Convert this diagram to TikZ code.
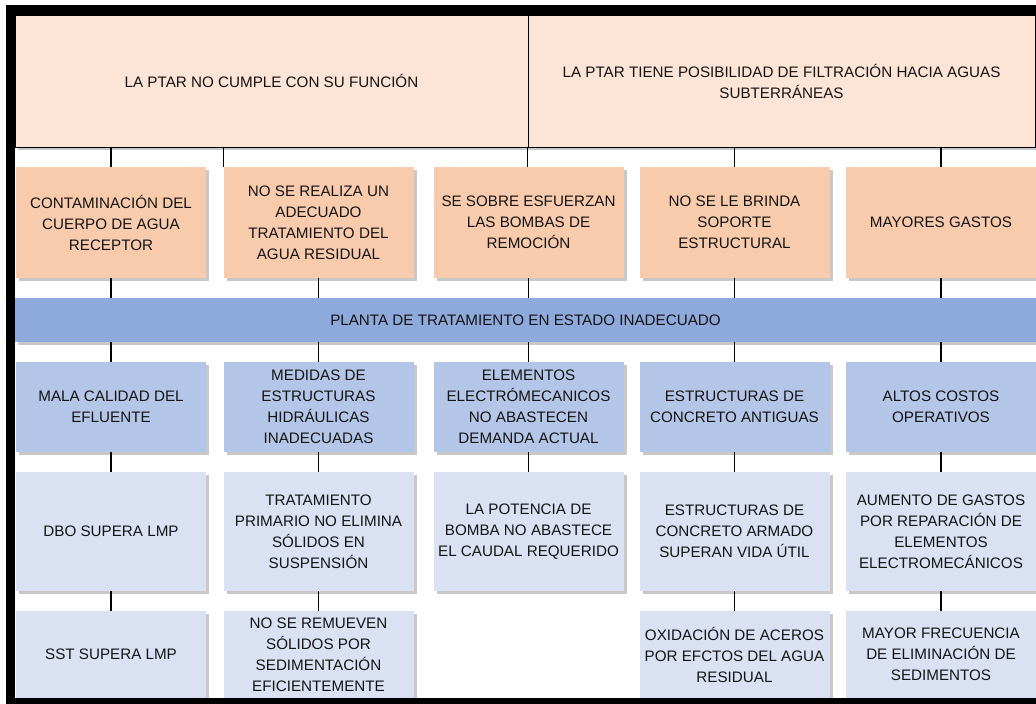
\documentclass[tikz,border=0pt]{standalone}
\usepackage{fontspec}
\setmainfont{Liberation Sans}
\usetikzlibrary{shadows}
\definecolor{toppeach}{HTML}{FCE4D6}
\definecolor{peach}{HTML}{F8CBAD}
\definecolor{barblue}{HTML}{8EA9DB}
\definecolor{midblue}{HTML}{B4C6E7}
\definecolor{paleblue}{HTML}{D9E1F2}
\definecolor{txt}{HTML}{141414}
\begin{document}
\begin{tikzpicture}[x=1pt,y=-1pt,
  every node/.style={font=\fontsize{15.2}{21}\selectfont, text=txt, align=center, inner sep=0pt},
  shad/.style={drop shadow={shadow xshift=3pt, shadow yshift=-3pt, opacity=0.3, fill=black!70}},
  topbox/.style={rectangle, draw=black, line width=1pt, fill=toppeach, minimum height=132pt, shad},
  effbox/.style={rectangle, fill=peach, minimum width=190pt, minimum height=111pt, shad},
  barbox/.style={rectangle, fill=barblue, minimum width=1021pt, minimum height=44pt, shad},
  causebox/.style={rectangle, fill=midblue, minimum width=190pt, minimum height=90pt, shad},
  subbox/.style={rectangle, fill=paleblue, minimum width=190pt, minimum height=119pt, shad},
  lowbox/.style={rectangle, fill=paleblue, minimum width=190pt, minimum height=87pt, shad},
  conn/.style={line width=1.3pt, black},
  frame/.style={fill=black, draw=none}
]
\useasboundingbox (0,0) rectangle (1036,704);
\fill[white] (0,0) rectangle (1036,704);

% top effects
\node[topbox, minimum width=513pt] (t1) at (271.5,81) {LA PTAR NO CUMPLE CON SU FUNCIÓN};
\node[topbox, minimum width=507pt] (t2) at (781.5,81) {LA PTAR TIENE POSIBILIDAD DE FILTRACIÓN HACIA AGUAS\\SUBTERRÁNEAS};

% row 2
\node[effbox] (r2a) at (111,222.5) {CONTAMINACIÓN DEL\\CUERPO DE AGUA\\RECEPTOR};
\node[effbox] (r2b) at (318.5,222.5) {NO SE REALIZA UN\\ADECUADO\\TRATAMIENTO DEL\\AGUA RESIDUAL};
\node[effbox] (r2c) at (528.5,222.5) {SE SOBRE ESFUERZAN\\LAS BOMBAS DE\\REMOCIÓN};
\node[effbox] (r2d) at (734.5,222.5) {NO SE LE BRINDA\\SOPORTE\\ESTRUCTURAL};
\node[effbox] (r2e) at (941,222.5) {MAYORES GASTOS};

% central problem
\node[barbox] (bar) at (525.5,320) {PLANTA DE TRATAMIENTO EN ESTADO INADECUADO};

% row 3
\node[causebox] (r3a) at (111,407) {MALA CALIDAD DEL\\EFLUENTE};
\node[causebox] (r3b) at (318.5,407) {MEDIDAS DE\\ESTRUCTURAS\\HIDRÁULICAS\\INADECUADAS};
\node[causebox] (r3c) at (528.5,407) {ELEMENTOS\\ELECTRÓMECANICOS\\NO ABASTECEN\\DEMANDA ACTUAL};
\node[causebox] (r3d) at (734.5,407) {ESTRUCTURAS DE\\CONCRETO ANTIGUAS};
\node[causebox] (r3e) at (941,407) {ALTOS COSTOS\\OPERATIVOS};

% row 4
\node[subbox] (r4a) at (111,531.5) {DBO SUPERA LMP};
\node[subbox] (r4b) at (318.5,531.5) {TRATAMIENTO\\PRIMARIO NO ELIMINA\\SÓLIDOS EN\\SUSPENSIÓN};
\node[subbox] (r4c) at (528.5,531.5) {LA POTENCIA DE\\BOMBA NO ABASTECE\\EL CAUDAL REQUERIDO};
\node[subbox] (r4d) at (734.5,531.5) {ESTRUCTURAS DE\\CONCRETO ARMADO\\SUPERAN VIDA ÚTIL};
\node[subbox] (r4e) at (941,531.5) {AUMENTO DE GASTOS\\POR REPARACIÓN DE\\ELEMENTOS\\ELECTROMECÁNICOS};

% row 5
\node[lowbox] (r5a) at (111,654.5) {SST SUPERA LMP};
\node[lowbox] (r5b) at (318.5,654.5) {NO SE REMUEVEN\\SÓLIDOS POR\\SEDIMENTACIÓN\\EFICIENTEMENTE};
\node[lowbox] (r5d) at (734.5,654.5) {OXIDACIÓN DE ACEROS\\POR EFCTOS DEL AGUA\\RESIDUAL};
\node[lowbox] (r5e) at (941,654.5) {MAYOR FRECUENCIA\\DE ELIMINACIÓN DE\\SEDIMENTOS};

% connectors: top effects to row 2
\draw[conn] (t1.south -| r2a.north) -- (r2a.north);
\draw[conn] (t1.south -| r2b.north west) -- (r2b.north west);
\draw[conn] (t2.south west) -- (t2.south west |- r2c.north);
\draw[conn] (t2.south -| r2d.north) -- (r2d.north);
\draw[conn] (t2.south -| r2e.north) -- (r2e.north);

% row 2 to bar, bar to row 3, row 3 to row 4
\foreach \c in {a,b,c,d,e}{
  \draw[conn] (r2\c.south) -- (r2\c.south |- bar.north);
  \draw[conn] (bar.south -| r3\c.north) -- (r3\c.north);
  \draw[conn] (r3\c.south) -- (r4\c.north);
}
% row 4 to row 5
\foreach \c in {a,b,d,e}{
  \draw[conn] (r4\c.south) -- (r5\c.north);
}

% outer black frame
\fill[frame] (6,5) rectangle (15,704);
\fill[frame] (6,5) rectangle (1036,15);
\fill[frame] (6,698) rectangle (1036,704);
\end{tikzpicture}
\end{document}
